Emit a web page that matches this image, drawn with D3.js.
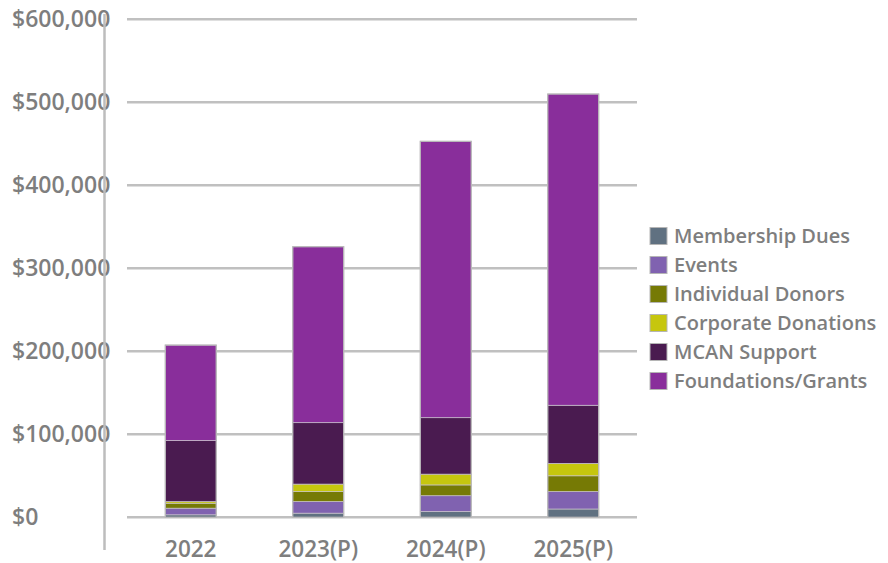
<!DOCTYPE html>
<html>
<head>
<meta charset="utf-8">
<script src="https://cdn.jsdelivr.net/npm/d3@7"></script>
<style>
  html, body { margin: 0; padding: 0; background: #fff; }
  svg { display: block; }
  text { font-family: "Open Sans", sans-serif; fill: #7e7e7e; font-weight: 600; }
</style>
</head>
<body>
<svg id="chart" width="888" height="563"></svg>
<script>
const categories = ["2022", "2023(P)", "2024(P)", "2025(P)"];
const seriesNames = ["Membership Dues", "Events", "Individual Donors", "Corporate Donations", "MCAN Support", "Foundations/Grants"];
const membershipDues   = [3000, 5000, 7000, 10000];
const events           = [8000, 14000, 19000, 21000];
const individualDonors = [6000, 12000, 13000, 19000];
const corporateDonations = [2000, 9000, 13000, 15000];
const mcanSupport      = [73500, 74000, 68000, 70000];
const foundationsGrants = [115000, 212000, 333000, 375000];
const yTicks = [0, 100000, 200000, 300000, 400000, 500000, 600000];
const colors = ["#607181", "#8062b0", "#767a05", "#c6c60e", "#4a1b50", "#892e9b"];

const seriesValues = [membershipDues, events, individualDonors, corporateDonations, mcanSupport, foundationsGrants];
const rows = categories.map((c, i) => {
  const r = { cat: c };
  seriesNames.forEach((s, j) => r[s] = seriesValues[j][i]);
  return r;
});

const svg = d3.select("#chart");
const x = d3.scaleBand().domain(categories).range([127, 637]).paddingInner(0.6).paddingOuter(0.3);
const y = d3.scaleLinear().domain([0, 600000]).range([517.3, 19.3]);

// gridlines
svg.append("g").selectAll("line").data(yTicks).join("line")
  .attr("x1", 127).attr("x2", 637)
  .attr("y1", d => y(d)).attr("y2", d => y(d))
  .attr("stroke", "#c0c0c0").attr("stroke-width", 2.5);

// y labels
const fmt = d3.format("$,");
svg.append("g").selectAll("text").data(yTicks).join("text")
  .attr("x", 12).attr("y", d => y(d))
  .attr("dy", "0.35em")
  .attr("font-size", 23)
  .text(d => fmt(d));

// y axis line
svg.append("line").attr("x1", 104.5).attr("x2", 104.5).attr("y1", 14).attr("y2", 550)
  .attr("stroke", "#bdbdbd").attr("stroke-width", 2.5);

// stacked bars
const stack = d3.stack().keys(seriesNames)(rows);
svg.append("g").selectAll("g").data(stack).join("g")
  .attr("fill", (d, i) => colors[i])
  .selectAll("rect").data(d => d).join("rect")
  .attr("x", d => x(d.data.cat))
  .attr("width", x.bandwidth())
  .attr("y", d => y(d[1]))
  .attr("height", d => y(d[0]) - y(d[1]))
  .attr("stroke", "#c9c3cc").attr("stroke-width", 0.7);

// bar outline
svg.append("g").selectAll("rect").data(rows).join("rect")
  .attr("x", d => x(d.cat))
  .attr("width", x.bandwidth())
  .attr("y", d => y(d3.sum(seriesNames, s => d[s])))
  .attr("height", d => y(0) - y(d3.sum(seriesNames, s => d[s])))
  .attr("fill", "none").attr("stroke", "#b8b8b8").attr("stroke-width", 1.2);

// x labels
svg.append("g").selectAll("text").data(categories).join("text")
  .attr("x", d => x(d) + x.bandwidth() / 2)
  .attr("y", 549).attr("dy", "0.35em")
  .attr("text-anchor", "middle")
  .attr("font-size", 22.5)
  .text(d => d);

// legend
const lg = svg.append("g").selectAll("g").data(seriesNames).join("g")
  .attr("transform", (d, i) => `translate(650, ${236 + i * 29})`);
lg.append("rect").attr("x", 0).attr("y", -8.5).attr("width", 17).attr("height", 17)
  .attr("fill", (d, i) => colors[i]).attr("stroke", "#b5b5b5").attr("stroke-width", 1);
lg.append("text").attr("x", 24).attr("y", 0).attr("dy", "0.35em")
  .attr("font-size", 20).text(d => d);
</script>
</body>
</html>
